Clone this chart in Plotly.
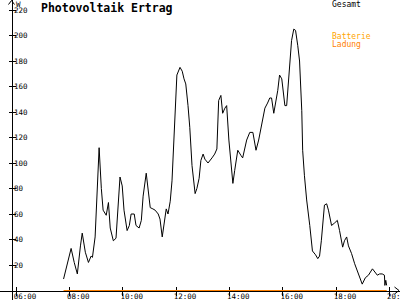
import plotly.graph_objects as go

DAY = "2024-06-15 "

# --- data ---
gesamt_times = [
    "07:47", "08:04", "08:11", "08:18", "08:25", "08:29", "08:36", "08:43", "08:49", "08:52",
    "08:58", "09:03", "09:07", "09:12", "09:16", "09:23", "09:28", "09:32", "09:39", "09:45",
    "09:50", "09:54", "09:59", "10:03", "10:10", "10:15", "10:19", "10:26", "10:30", "10:37",
    "10:42", "10:46", "10:53", "10:57", "11:02", "11:08", "11:13", "11:20", "11:24", "11:29",
    "11:33", "11:38", "11:42", "11:47", "11:51", "11:56", "12:02", "12:09", "12:14", "12:18",
    "12:22", "12:27", "12:31", "12:36", "12:43", "12:47", "12:52", "12:56", "13:01", "13:05",
    "13:12", "13:21", "13:27", "13:32", "13:36", "13:41", "13:45", "13:50", "13:54", "13:59",
    "14:03", "14:08", "14:12", "14:19", "14:26", "14:30", "14:39", "14:46", "14:53", "15:00",
    "15:06", "15:13", "15:20", "15:26", "15:31", "15:35", "15:40", "15:49", "15:53", "15:58",
    "16:05", "16:09", "16:16", "16:20", "16:25", "16:29", "16:34", "16:38", "16:43", "16:45",
    "16:49", "16:54", "17:01", "17:07", "17:14", "17:19", "17:23", "17:27", "17:34", "17:39",
    "17:43", "17:50", "17:57", "18:03", "18:08", "18:15", "18:19", "18:24", "18:28", "18:35",
    "18:42", "18:50", "18:59", "19:06", "19:13", "19:22", "19:26", "19:33", "19:38", "19:44",
    "19:49", "19:50", "19:52", "19:54",
]
gesamt_values = [
    9, 33, 22, 13, 35, 45, 30, 22, 27, 26,
    42, 78, 112, 80, 63, 59, 69, 49, 39, 41,
    70, 89, 82, 63, 47, 51, 60, 60, 51, 49,
    55, 74, 92, 78, 65, 64, 63, 60, 56, 42,
    51, 64, 60, 70, 86, 125, 169, 175, 172, 166,
    162, 145, 128, 98, 76, 80, 88, 102, 107, 103,
    100, 104, 107, 111, 149, 153, 139, 143, 145, 118,
    102, 84, 94, 110, 106, 104, 118, 124, 124, 110,
    118, 131, 143, 147, 151, 151, 139, 157, 169, 166,
    145, 145, 180, 196, 205, 204, 192, 180, 141, 110,
    90, 71, 51, 31, 28, 25, 27, 39, 67, 68,
    63, 51, 53, 55, 47, 34, 39, 42, 35, 29,
    21, 13, 5, 10, 12, 17, 15, 12, 13, 13,
    12, 4, 8, 4,
]
ladung_times = ["07:47", "19:54"]
ladung_values = [0, 0]

x_tick_times = ["06:00", "08:00", "10:00", "12:00", "14:00", "16:00", "18:00", "20:00"]
x_tick_labels = ["06:00", "08:00", "10:00", "12:00", "14:00", "16:00", "18:00", "20:00"]
y_tick_values = [20, 40, 60, 80, 100, 120, 140, 160, 180, 200, 220]
y_tick_labels = ["20", "40", "60", "80", "100", "120", "140", "160", "180", "200", "220"]

x_range = ["05:24", "20:24"]
y_range = [-7.45, 227.84]

title_text = "Photovoltaik Ertrag"
unit_text = "W"
legend_names = ["Gesamt", "Batterie", "Ladung"]
legend_colors = ["#000000", "#FFA500", "#FF8000"]

MONO = "DejaVu Sans Mono"

fig = go.Figure()
fig.add_trace(go.Scatter(
    x=[DAY + t for t in gesamt_times], y=gesamt_values, mode="lines",
    line=dict(color="#000000", width=1), xaxis="x", yaxis="y",
    showlegend=False, hoverinfo="skip",
))
fig.add_trace(go.Scatter(
    x=[DAY + t for t in ladung_times], y=ladung_values, mode="lines",
    line=dict(color="#FF8000", width=1), xaxis="x2", yaxis="y2",
    showlegend=False, hoverinfo="skip",
))

W, H = 400, 300
xpos = 11.5 / W        # y-axis location (paper)
ypos = 1 - 290.5 / H   # x-axis location (paper)

common_font = dict(family=MONO, size=7.5, color="#000000")

fig.update_layout(
    width=W, height=H,
    margin=dict(l=0, r=0, t=0, b=0, autoexpand=False),
    paper_bgcolor="white", plot_bgcolor="white",
    showlegend=False,
    xaxis=dict(
        type="date", range=[DAY + x_range[0], DAY + x_range[1]],
        anchor="free", position=ypos, domain=[0, 1], automargin=False,
        showline=True, linecolor="#000000", linewidth=1,
        ticks="outside", ticklen=4, tickcolor="#000000", tickwidth=1,
        tickvals=[DAY + t for t in x_tick_times], ticktext=x_tick_labels,
        tickfont=common_font, ticklabelshift=9, ticklabelstandoff=-6,
        ticklabeloverflow="allow",
        showgrid=False, zeroline=False, layer="below traces", fixedrange=True,
    ),
    xaxis2=dict(
        type="date", overlaying="x", matches="x",
        anchor="free", position=ypos, automargin=False,
        showline=False, ticks="inside", ticklen=4, tickcolor="#000000", tickwidth=1,
        tickvals=[DAY + t for t in x_tick_times], showticklabels=False,
        showgrid=False, zeroline=False, layer="below traces",
    ),
    yaxis=dict(
        range=y_range, anchor="free", position=xpos, domain=[0, 1], automargin=False,
        showline=True, linecolor="#000000", linewidth=1,
        ticks="outside", ticklen=3, tickcolor="#000000", tickwidth=1,
        tickvals=y_tick_values, ticktext=y_tick_labels,
        ticklabelposition="inside", tickfont=common_font,
        ticklabeloverflow="allow",
        showgrid=False, zeroline=False, layer="below traces", fixedrange=True,
    ),
    yaxis2=dict(
        overlaying="y", matches="y", anchor="free", position=xpos, automargin=False,
        showline=False, ticks="inside", ticklen=3, tickcolor="#000000", tickwidth=1,
        tickvals=y_tick_values, showticklabels=False,
        showgrid=False, zeroline=False, layer="below traces",
    ),
)

# axis arrow heads (styling)
def px(x, y):
    return x / W, 1 - y / H

ax1, ay1 = px(8.5, 4.5); ax2, ay2 = px(11.5, 0.5); ax3, ay3 = px(14.5, 4.5)
fig.add_shape(type="path", xref="paper", yref="paper",
              path=f"M {ax1} {ay1} L {ax2} {ay2} L {ax3} {ay3}",
              line=dict(color="#000000", width=1))
bx1, by1 = px(394.5, 287); bx2, by2 = px(399, 290.5); bx3, by3 = px(394.5, 294)
fig.add_shape(type="path", xref="paper", yref="paper",
              path=f"M {bx1} {by1} L {bx2} {by2} L {bx3} {by3}",
              line=dict(color="#000000", width=1))

# title, unit and legend texts
fig.add_annotation(text=f"<b>{title_text}</b>", xref="paper", yref="paper",
                   x=39 / W, y=1 - 7.5 / H, xanchor="left", yanchor="middle",
                   showarrow=False, font=dict(family=MONO, size=11.5, color="#000000"))
fig.add_annotation(text=unit_text, xref="paper", yref="paper",
                   x=13.5 / W, y=1 - 4.5 / H, xanchor="left", yanchor="middle",
                   showarrow=False, font=common_font)
legend_y = [4.5, 36, 44]
for name, color, ly in zip(legend_names, legend_colors, legend_y):
    fig.add_annotation(text=name, xref="paper", yref="paper",
                       x=329.5 / W, y=1 - ly / H, xanchor="left", yanchor="middle",
                       showarrow=False, font=dict(family=MONO, size=8, color=color))

fig.write_html("out.html")
